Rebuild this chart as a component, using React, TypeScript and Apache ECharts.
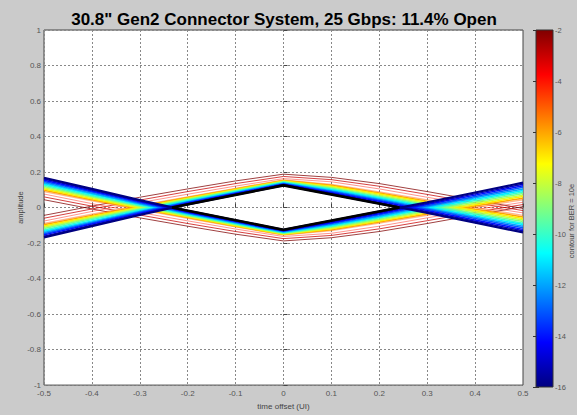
import React, { useEffect, useRef } from "react";
import * as echarts from "echarts";

const TITLE = '30.8" Gen2 Connector System, 25 Gbps: 11.4% Open';
const X_NAME = "time offset (UI)";
const Y_NAME = "amplitude";
const CBAR_NAME = "contour for BER = 10e";

const xTickValues = [-0.5, -0.4, -0.3, -0.2, -0.1, 0, 0.1, 0.2, 0.3, 0.4, 0.5];
const yTickValues = [-1, -0.8, -0.6, -0.4, -0.2, 0, 0.2, 0.4, 0.6, 0.8, 1];
const cbarTickValues = [-16, -14, -12, -10, -8, -6, -4, -2];

// sample positions (UI) of every contour
const timeOffsets = [-0.5, -0.4, -0.3, -0.2, -0.1, 0, 0.1, 0.2, 0.3, 0.4, 0.5];
// BER exponent of each contour
const berExponents = [-16, -15, -14, -13, -12, -11, -10, -9, -8, -7, -6, -5, -4, -3, -2];
// upper (Λ-shaped) edge of each contour; lower edge is its mirror
const upperContours = [
  [-0.168, -0.105, -0.042, 0.018, 0.072, 0.126, 0.075, 0.023, -0.030, -0.085, -0.140],
  [-0.161, -0.099, -0.037, 0.022, 0.075, 0.129, 0.080, 0.029, -0.023, -0.077, -0.131],
  [-0.154, -0.093, -0.032, 0.026, 0.079, 0.131, 0.085, 0.035, -0.017, -0.070, -0.123],
  [-0.147, -0.087, -0.027, 0.030, 0.082, 0.134, 0.090, 0.041, -0.010, -0.062, -0.114],
  [-0.140, -0.081, -0.022, 0.033, 0.085, 0.137, 0.095, 0.047, -0.004, -0.055, -0.105],
  [-0.133, -0.075, -0.018, 0.037, 0.088, 0.139, 0.100, 0.053, 0.003, -0.047, -0.096],
  [-0.126, -0.068, -0.013, 0.041, 0.092, 0.142, 0.105, 0.058, 0.010, -0.039, -0.088],
  [-0.118, -0.062, -0.008, 0.045, 0.095, 0.145, 0.110, 0.064, 0.017, -0.032, -0.079],
  [-0.111, -0.056, -0.003, 0.049, 0.098, 0.147, 0.115, 0.070, 0.023, -0.024, -0.070],
  [-0.104, -0.050, 0.002, 0.052, 0.102, 0.150, 0.120, 0.076, 0.030, -0.016, -0.062],
  [-0.097, -0.044, 0.007, 0.056, 0.105, 0.152, 0.125, 0.082, 0.036, -0.009, -0.053],
  [-0.090, -0.038, 0.012, 0.060, 0.108, 0.155, 0.130, 0.088, 0.043, -0.001, -0.044],
  [-0.076, -0.022, 0.028, 0.075, 0.121, 0.163, 0.145, 0.105, 0.058, 0.012, -0.030],
  [-0.060, -0.008, 0.042, 0.090, 0.135, 0.175, 0.157, 0.120, 0.074, 0.027, -0.017],
  [-0.044, 0.008, 0.058, 0.105, 0.150, 0.188, 0.170, 0.135, 0.090, 0.042, -0.005],
];

// eye opening outline (black diamond)
const eyeOutlineX = [-0.233, 0, 0.242, 0, -0.233];
const eyeOutlineY = [0, 0.125, 0, -0.125, 0];

const FONT = "'Liberation Sans', Arial, Helvetica, sans-serif";

function jet(t: number): string {
  const c = (v: number) => Math.max(0, Math.min(1, v));
  const r = c(Math.min(4 * t - 1.5, -4 * t + 4.5));
  const g = c(Math.min(4 * t - 0.5, -4 * t + 3.5));
  const b = c(Math.min(4 * t + 0.5, -4 * t + 2.5));
  return `rgb(${Math.round(r * 255)},${Math.round(g * 255)},${Math.round(b * 255)})`;
}

const fmt = (v: number) => String(Math.round(v * 10) / 10);

export default function App() {
  const ref = useRef<HTMLDivElement>(null);
  useEffect(() => {
    if (!ref.current) return;
    const chart = echarts.init(ref.current, undefined, { renderer: "svg" });
    const cbMin = cbarTickValues[0];
    const cbMax = cbarTickValues[cbarTickValues.length - 1];

    const contourSeries: any[] = [];
    // draw high BER first so low BER (blue) lies on top
    for (let k = berExponents.length - 1; k >= 0; k--) {
      const lvl = berExponents[k];
      const t = (lvl - cbMin) / (cbMax - cbMin);
      const color = jet(t);
      const width = lvl === -16 ? 2.2 : lvl <= -6 ? 1.5 : lvl === -5 ? 1.4 : 1;
      const opacity = lvl === -5 || lvl === -4 ? 0.45 : lvl >= -3 ? 0.75 : 1;
      const upper = timeOffsets.map((x, i) => [x, upperContours[k][i]]);
      const lower = timeOffsets.map((x, i) => [x, -upperContours[k][i]]);
      [upper, lower].forEach((d, j) => {
        contourSeries.push({
          type: "line",
          name: `BER 1e${lvl}${j ? " lo" : " hi"}`,
          xAxisIndex: 0,
          yAxisIndex: 0,
          data: d,
          showSymbol: false,
          symbol: "none",
          smooth: false,
          lineStyle: { color, width, opacity },
          silent: true,
        });
      });
    }

    const stops = [
      { offset: 0, color: jet(0) },
      { offset: 0.125, color: jet(0.125) },
      { offset: 0.375, color: jet(0.375) },
      { offset: 0.625, color: jet(0.625) },
      { offset: 0.875, color: jet(0.875) },
      { offset: 1, color: jet(1) },
    ];

    const axisLabelStyle = { fontSize: 8, color: "#555", fontFamily: FONT };

    chart.setOption({
      animation: false,
      backgroundColor: "#cbcbcb",
      textStyle: { fontFamily: FONT },
      grid: [
        { left: 44, top: 30, width: 479, height: 357, show: true, backgroundColor: "#ffffff", borderColor: "#444", borderWidth: 1 },
        { left: 536, top: 30, width: 17, height: 357, show: false },
      ],
      xAxis: [
        {
          type: "value",
          gridIndex: 0,
          min: xTickValues[0],
          max: xTickValues[xTickValues.length - 1],
          interval: 0.1,
          axisLine: { show: false },
          axisTick: { show: true, inside: true, length: 4, lineStyle: { color: "#444" } },
          splitLine: { show: true, lineStyle: { type: [2, 2], color: "#888", width: 1 } },
          axisLabel: { ...axisLabelStyle, margin: 4, formatter: fmt },
          name: X_NAME,
          nameLocation: "middle",
          nameGap: 14,
          nameTextStyle: { fontSize: 8, color: "#444", fontFamily: FONT },
        },
        { type: "value", gridIndex: 1, min: 0, max: 1, show: false },
      ],
      yAxis: [
        {
          type: "value",
          gridIndex: 0,
          min: yTickValues[0],
          max: yTickValues[yTickValues.length - 1],
          interval: 0.2,
          axisLine: { show: false },
          axisTick: { show: true, inside: true, length: 4, lineStyle: { color: "#444" } },
          splitLine: { show: true, lineStyle: { type: [2, 2], color: "#888", width: 1 } },
          axisLabel: { ...axisLabelStyle, margin: 3, formatter: fmt },
          name: Y_NAME,
          nameLocation: "middle",
          nameGap: 20,
          nameMoveOverlap: false,
          nameTextStyle: { fontSize: 7.5, color: "#444", fontFamily: FONT },
        },
        {
          type: "value",
          gridIndex: 1,
          position: "right",
          min: cbMin,
          max: cbMax,
          interval: 2,
          axisLine: { show: false },
          axisTick: { show: true, inside: true, length: 3, lineStyle: { color: "#333" } },
          splitLine: { show: false },
          axisLabel: { ...axisLabelStyle, fontSize: 7.5, margin: 2 },
        },
        {
          type: "value",
          gridIndex: 1,
          position: "left",
          min: cbMin,
          max: cbMax,
          interval: 2,
          axisLine: { show: false },
          axisTick: { show: true, inside: true, length: 3, lineStyle: { color: "#333" } },
          splitLine: { show: false },
          axisLabel: { show: false },
        },
      ],
      graphic: [
        {
          type: "text",
          x: 284,
          y: 19,
          style: {
            text: TITLE,
            fontSize: 17,
            fontWeight: "bold",
            fontFamily: FONT,
            fill: "#000",
            align: "center",
            verticalAlign: "middle",
          },
        },
        {
          type: "text",
          x: 571,
          y: 221,
          rotation: Math.PI / 2,
          style: {
            text: CBAR_NAME,
            fontSize: 7.5,
            fontFamily: FONT,
            fill: "#444",
            align: "center",
            verticalAlign: "middle",
          },
        },
      ],
      series: [
        ...contourSeries,
        {
          type: "line",
          name: "eye opening",
          xAxisIndex: 0,
          yAxisIndex: 0,
          data: eyeOutlineX.map((x, i) => [x, eyeOutlineY[i]]),
          showSymbol: false,
          symbol: "none",
          lineStyle: { color: "#000", width: 2.6 },
          silent: true,
        },
        {
          type: "custom",
          name: "colorbar",
          xAxisIndex: 1,
          yAxisIndex: 1,
          encode: { x: 0, y: [1, 2] },
          data: [[0, cbMin, cbMax]],
          silent: true,
          renderItem: (params: any, api: any) => {
            const p0 = api.coord([0, api.value(1)]);
            const p1 = api.coord([1, api.value(2)]);
            return {
              type: "rect",
              shape: { x: p0[0], y: p1[1], width: p1[0] - p0[0], height: p0[1] - p1[1] },
              style: {
                fill: new echarts.graphic.LinearGradient(0, 1, 0, 0, stops),
                stroke: "#333",
                lineWidth: 1,
              },
            };
          },
        },
      ],
    });
    return () => chart.dispose();
  }, []);
  return (
    <div
      ref={ref}
      style={{ position: "fixed", left: 0, top: 0, width: 577, height: 415 }}
    />
  );
}
